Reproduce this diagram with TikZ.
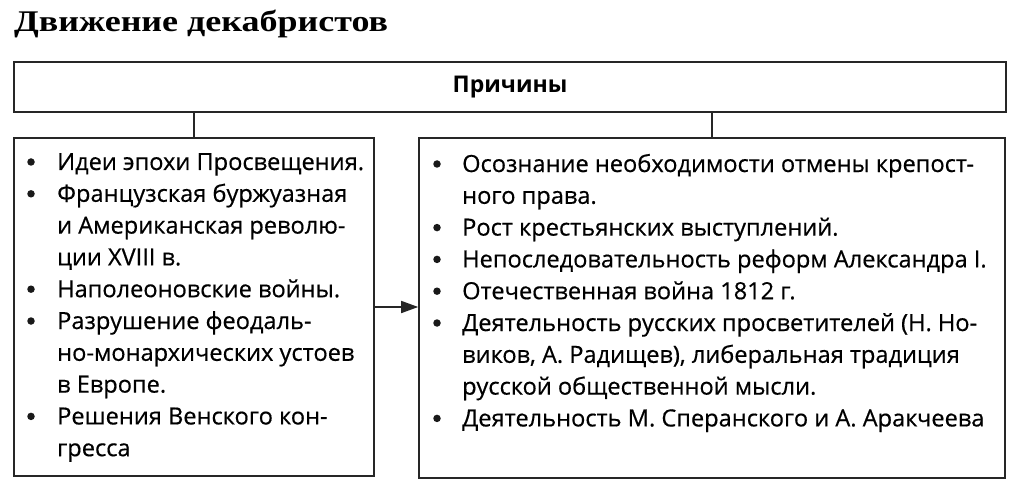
\documentclass[tikz,border=0pt]{standalone}
\usepackage{fontspec}
\setmainfont{Open Sans}
\newfontfamily\bodyfont{Open Sans}[FakeBold=0.5]
\newfontfamily\titlefont{Liberation Serif}
\usetikzlibrary{arrows.meta}
\begin{document}
\begin{tikzpicture}[x=1pt,y=-1pt,
  frame/.style={draw=black!85, line width=1.6pt, rectangle, inner sep=0pt},
  txt/.style={anchor=base west, inner sep=0pt, font=\bodyfont\fontsize{23.6}{28}\selectfont},
  bul/.style={circle, fill=black!90, inner sep=0pt, minimum size=7.5pt},
  conn/.style={draw=black!85, line width=1.6pt}]
\useasboundingbox (0,0) rectangle (1024,497);
\node[anchor=base west, inner sep=0pt, font=\titlefont\bfseries\fontsize{30}{32}\selectfont] (title) at (14,32) {\scalebox{1.2}[1]{Движение декабристов}};
\node[frame, minimum width=992pt, minimum height=50pt, font=\bfseries\fontsize{23}{27}\selectfont] (top) at (510,87) {Причины};
\node[frame, minimum width=360pt, minimum height=338pt] (lb) at (194,307) {};
\node[frame, minimum width=586pt, minimum height=340pt] (rb) at (712,308) {};
\draw[conn] (lb.north) -- (lb.north |- top.south);
\draw[conn] (rb.north) -- (rb.north |- top.south);
\draw[conn, -{Triangle[length=17pt, width=12pt]}] (lb.east) -- (rb.west |- lb.east);
\foreach \t [count=\i] in {
  Идеи эпохи Просвещения.,
  Французская буржуазная,
  и Американская револю-,
  ции XVIII в.,
  Наполеоновские войны.,
  Разрушение феодаль-,
  но-монархических устоев,
  в Европе.,
  Решения Венского кон-,
  гресса}
  \node[txt] (l\i) at (57,{170+31.8*(\i-1)}) {\t};
\foreach \i in {1,2,5,6,9}
  \node[bul] (lbu\i) at (31,{162+31.8*(\i-1)}) {};
\foreach \t [count=\i] in {
  Осознание необходимости отмены крепост-,
  ного права.,
  Рост крестьянских выступлений.,
  Непоследовательность реформ Александра I.,
  Отечественная война 1812 г.,
  Деятельность русских просветителей (Н. Но-,
  {виков, А. Радищев), либеральная традиция},
  русской общественной мысли.,
  Деятельность М. Сперанского и А. Аракчеева}
  \node[txt] (r\i) at (462,{172+31.8*(\i-1)}) {\t};
\foreach \i in {1,3,4,5,6,9}
  \node[bul] (rbu\i) at (437,{164+31.8*(\i-1)}) {};
\end{tikzpicture}
\end{document}
